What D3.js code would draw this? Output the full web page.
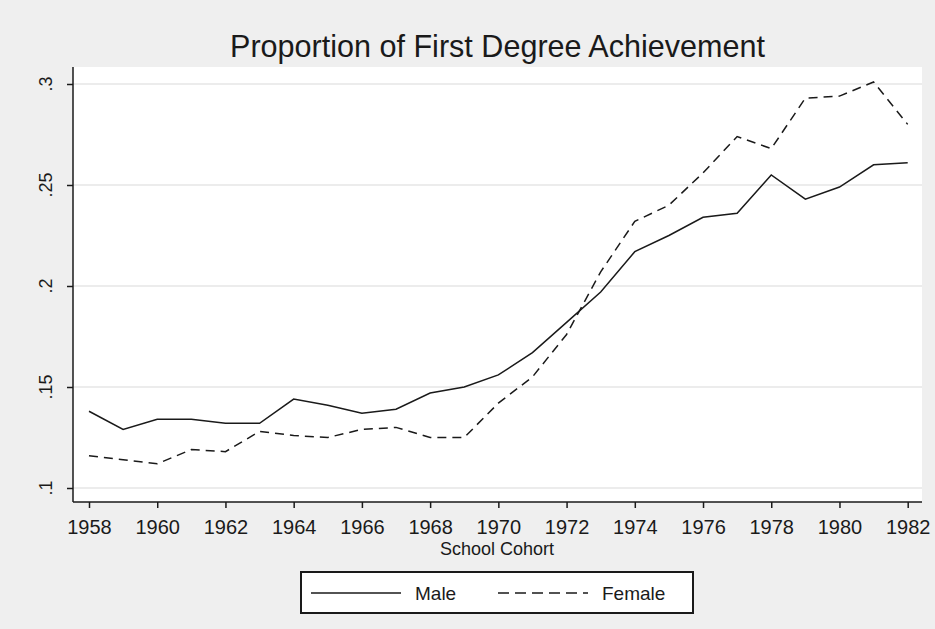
<!DOCTYPE html>
<html lang="en">
	<head>
		<meta charset="utf-8">
		<title>Proportion of First Degree Achievement</title>
		<script type="text/javascript" src="https://d3js.org/d3.v7.min.js"></script>
		<style type="text/css">
			body {
				margin: 0;
				background: #efefef;
			}
			text {
				font-family: 'Liberation Sans', Arial, sans-serif;
				fill: #1a1a1a;
			}
		</style>
	</head>
	<body>
		<div id="chart"></div>
		<script type="text/javascript">

		//Data
		var years = [1958, 1959, 1960, 1961, 1962, 1963, 1964, 1965, 1966, 1967, 1968, 1969, 1970,
			1971, 1972, 1973, 1974, 1975, 1976, 1977, 1978, 1979, 1980, 1981, 1982];
		var male = [0.138, 0.129, 0.134, 0.134, 0.132, 0.132, 0.144, 0.141, 0.137, 0.139, 0.147, 0.150, 0.156,
			0.167, 0.182, 0.197, 0.217, 0.225, 0.234, 0.236, 0.255, 0.243, 0.249, 0.260, 0.261];
		var female = [0.116, 0.114, 0.112, 0.119, 0.118, 0.128, 0.126, 0.125, 0.129, 0.130, 0.125, 0.125, 0.142,
			0.155, 0.176, 0.207, 0.232, 0.240, 0.256, 0.274, 0.268, 0.293, 0.294, 0.301, 0.280];
		var yTicks = [0.1, 0.15, 0.2, 0.25, 0.3];
		var yTickLabels = [".1", ".15", ".2", ".25", ".3"];
		var xTicks = [1958, 1960, 1962, 1964, 1966, 1968, 1970, 1972, 1974, 1976, 1978, 1980, 1982];
		var seriesNames = ["Male", "Female"];

		var w = 935, h = 629;
		var plot = {left: 73, right: 922, top: 67, bottom: 502};

		var svg = d3.select("#chart")
			.append("svg")
			.attr("width", w)
			.attr("height", h);

		svg.append("rect")
			.attr("width", w)
			.attr("height", h)
			.attr("fill", "#efefef");

		//Scales
		var x = d3.scaleLinear()
			.domain([1958, 1982])
			.range([89, 907.7]);

		var y = d3.scaleLinear()
			.domain([0.1, 0.3])
			.range([488, 84]);

		//Plot region
		svg.append("rect")
			.attr("x", plot.left)
			.attr("y", plot.top)
			.attr("width", plot.right - plot.left)
			.attr("height", plot.bottom - plot.top)
			.attr("fill", "white");

		//Gridlines
		svg.append("g")
			.selectAll("line")
			.data(yTicks)
			.enter()
			.append("line")
			.attr("x1", plot.left)
			.attr("x2", plot.right)
			.attr("y1", function(d) { return y(d); })
			.attr("y2", function(d) { return y(d); })
			.attr("stroke", "#e6e6e6")
			.attr("stroke-width", 1.5);

		//Y axis
		var yAxis = svg.append("g")
			.attr("transform", "translate(" + plot.left + ",0)")
			.call(d3.axisLeft(y)
				.tickValues(yTicks)
				.tickSize(6)
				.tickFormat(""));
		yAxis.select(".domain")
			.attr("d", "M0," + plot.top + "V" + plot.bottom)
			.attr("stroke", "#1a1a1a")
			.attr("stroke-width", 1.5);
		yAxis.selectAll(".tick line").attr("stroke", "#1a1a1a").attr("stroke-width", 1.5);

		svg.append("g")
			.selectAll("text")
			.data(yTicks)
			.enter()
			.append("text")
			.attr("transform", function(d) { return "translate(52," + y(d) + ") rotate(-90)"; })
			.attr("text-anchor", "middle")
			.attr("font-size", 18)
			.text(function(d, i) { return yTickLabels[i]; });

		//X axis
		var xAxis = svg.append("g")
			.attr("transform", "translate(0," + plot.bottom + ")")
			.call(d3.axisBottom(x)
				.tickValues(xTicks)
				.tickSize(6)
				.tickPadding(12)
				.tickFormat(d3.format("d")));
		xAxis.select(".domain")
			.attr("d", "M" + plot.left + ",0H" + plot.right)
			.attr("stroke", "#1a1a1a")
			.attr("stroke-width", 1.5);
		xAxis.selectAll(".tick line").attr("stroke", "#1a1a1a").attr("stroke-width", 1.5);
		xAxis.selectAll(".tick text")
			.attr("font-family", "'Liberation Sans', Arial, sans-serif")
			.attr("font-size", 20)
			.attr("fill", "#1a1a1a");

		svg.append("text")
			.attr("x", 497)
			.attr("y", 555)
			.attr("text-anchor", "middle")
			.attr("font-size", 18)
			.text("School Cohort");

		//Title
		svg.append("text")
			.attr("x", 497.5)
			.attr("y", 57)
			.attr("text-anchor", "middle")
			.attr("font-size", 32)
			.attr("textLength", 535)
			.attr("lengthAdjust", "spacingAndGlyphs")
			.text("Proportion of First Degree Achievement");

		//Lines
		var line = d3.line()
			.x(function(d) { return x(d[0]); })
			.y(function(d) { return y(d[1]); });

		var series = [
			{name: seriesNames[0], values: d3.zip(years, male), dash: null},
			{name: seriesNames[1], values: d3.zip(years, female), dash: "9,6"}
		];

		svg.append("g")
			.selectAll("path")
			.data(series)
			.enter()
			.append("path")
			.attr("d", function(d) { return line(d.values); })
			.attr("fill", "none")
			.attr("stroke", "#1a1a1a")
			.attr("stroke-width", 1.5)
			.attr("stroke-dasharray", function(d) { return d.dash; });

		//Legend
		var legend = svg.append("g");
		legend.append("rect")
			.attr("x", 301)
			.attr("y", 572)
			.attr("width", 392)
			.attr("height", 41)
			.attr("fill", "white")
			.attr("stroke", "#1a1a1a")
			.attr("stroke-width", 2);

		var legendItems = legend.selectAll("g.item")
			.data(series)
			.enter()
			.append("g")
			.attr("class", "item")
			.attr("transform", function(d, i) { return "translate(" + (311 + i * 187) + ",593)"; });

		legendItems.append("line")
			.attr("x1", 0)
			.attr("x2", 90)
			.attr("stroke", "#1a1a1a")
			.attr("stroke-width", 1.5)
			.attr("stroke-dasharray", function(d) { return d.dash ? "11,6" : null; });

		legendItems.append("text")
			.attr("x", 104)
			.attr("y", 7)
			.attr("font-size", 19)
			.text(function(d) { return d.name; });

		</script>
	</body>
</html>
